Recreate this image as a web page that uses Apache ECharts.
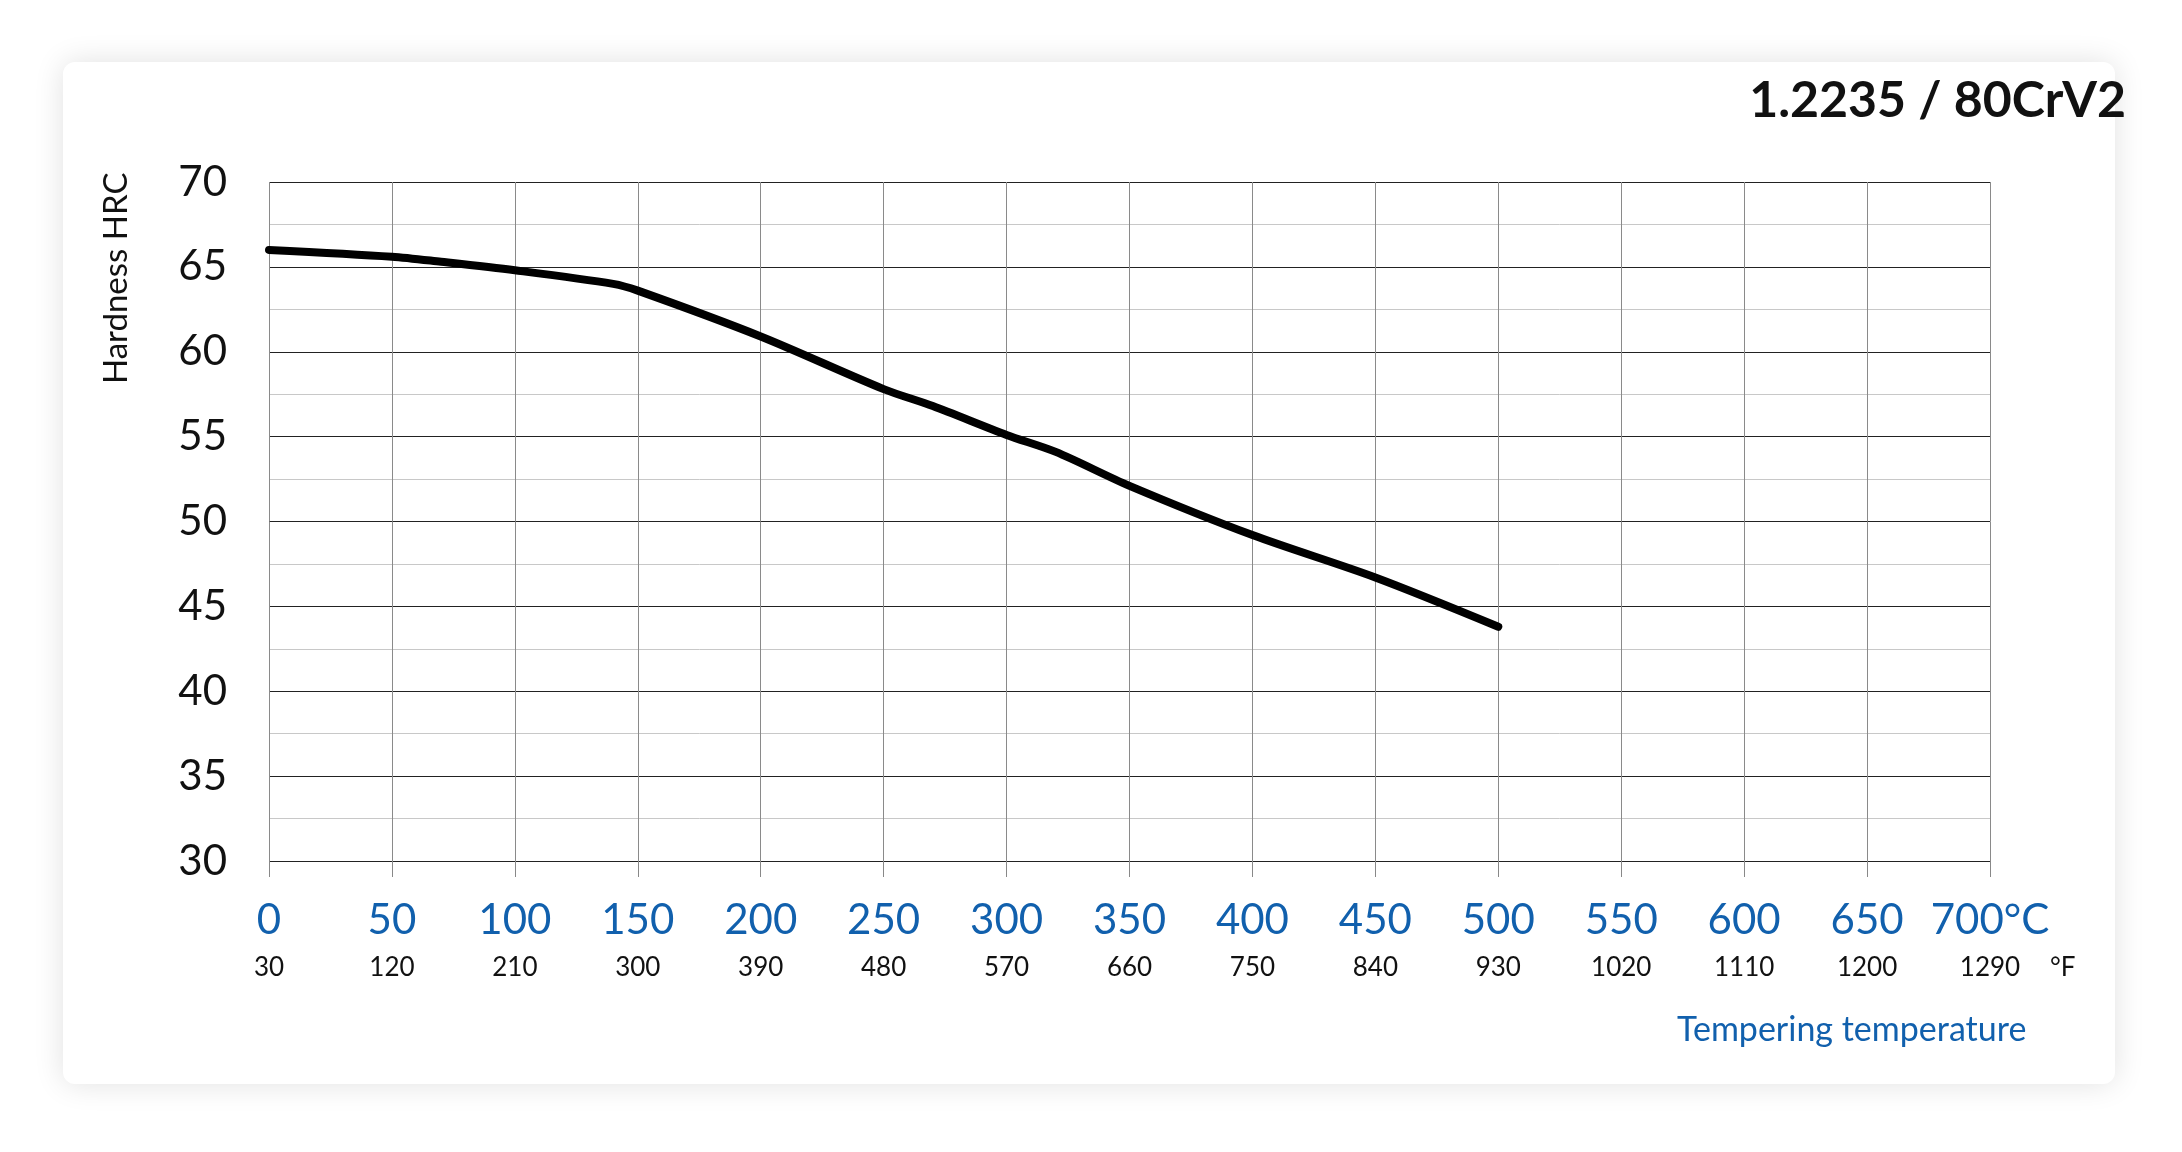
<!DOCTYPE html>
<html>
<head>
<meta charset="utf-8">
<script src="https://cdn.jsdelivr.net/npm/echarts@6/dist/echarts.min.js"></script>
<style>
  html, body { margin: 0; padding: 0; background: #fff; }
  #chart { width: 2182px; height: 1152px; }
</style>
</head>
<body>
<div id="chart"></div>
<script>
// tempering temperature (°C) vs hardness (HRC)
const tempC = [0, 50, 70, 100, 140, 150, 200, 250, 270, 300, 320, 350, 400, 450, 500];
const hardness = [66, 65.6, 65.3, 64.8, 64, 63.6, 60.9, 57.8, 56.8, 55.1, 54.1, 52.1, 49.2, 46.7, 43.8];
const fahrenheit = { 0: 30, 50: 120, 100: 210, 150: 300, 200: 390, 250: 480, 300: 570, 350: 660,
  400: 750, 450: 840, 500: 930, 550: 1020, 600: 1110, 650: 1200, 700: 1290 };

const chart = echarts.init(document.getElementById('chart'));
const blue = '#1160ad';
const font = 'Lato, "Open Sans", sans-serif';

chart.setOption({
  animation: false,
  graphic: [
    { type: 'rect', z: -10, shape: { x: 63, y: 62, width: 2064 - 12, height: 1022, r: 12 },
      style: { fill: '#fff', shadowBlur: 30, shadowColor: 'rgba(0,0,0,0.12)' } },
    { type: 'text', right: 56, top: 76,
      style: { text: '1.2235 / 80CrV2', font: 'bold 50px ' + font, fill: '#111' } },
    { type: 'text', x: 116, y: 384, rotation: Math.PI / 2,
      style: { text: 'Hardness HRC', font: '33px ' + font, fill: '#111', align: 'left', verticalAlign: 'middle' } },
    { type: 'text', x: 2050, y: 955,
      style: { text: '°F', font: '26px ' + font, fill: '#111' } },
    { type: 'text', x: 1677, y: 1013,
      style: { text: 'Tempering temperature', font: '34px ' + font, fill: blue } }
  ],
  grid: { left: 269, right: 2182 - 1990, top: 182, bottom: 1152 - 861 },
  xAxis: {
    type: 'value', min: 0, max: 700, interval: 50,
    axisLine: { show: false },
    axisTick: { show: true, length: 16, inside: false, lineStyle: { color: '#888' } },
    splitLine: { show: true, lineStyle: { color: '#8a8a8a', width: 1 } },
    axisLabel: {
      margin: 34,
      formatter: v => '{c|' + (v === 700 ? '700°C' : v) + '}\n{f|' + fahrenheit[v] + '}',
      rich: {
        c: { fontSize: 42, fontFamily: font, color: blue, lineHeight: 50 },
        f: { fontSize: 26, fontFamily: font, color: '#111', lineHeight: 46 }
      }
    }
  },
  yAxis: {
    type: 'value', min: 30, max: 70, interval: 5,
    axisLine: { show: false },
    axisTick: { show: false },
    axisLabel: { fontSize: 42, fontFamily: font, color: '#111', margin: 42 },
    splitLine: { show: true, lineStyle: { color: '#222', width: 1.2 } },
    minorTick: { show: false, splitNumber: 2 },
    minorSplitLine: { show: true, lineStyle: { color: '#c8c8c8', width: 1 } }
  },
  series: [{
    type: 'line',
    data: tempC.map((t, i) => [t, hardness[i]]),
    smooth: 0.3,
    symbol: 'none',
    lineStyle: { color: '#000', width: 8, cap: 'round' }
  }]
});
</script>
</body>
</html>
